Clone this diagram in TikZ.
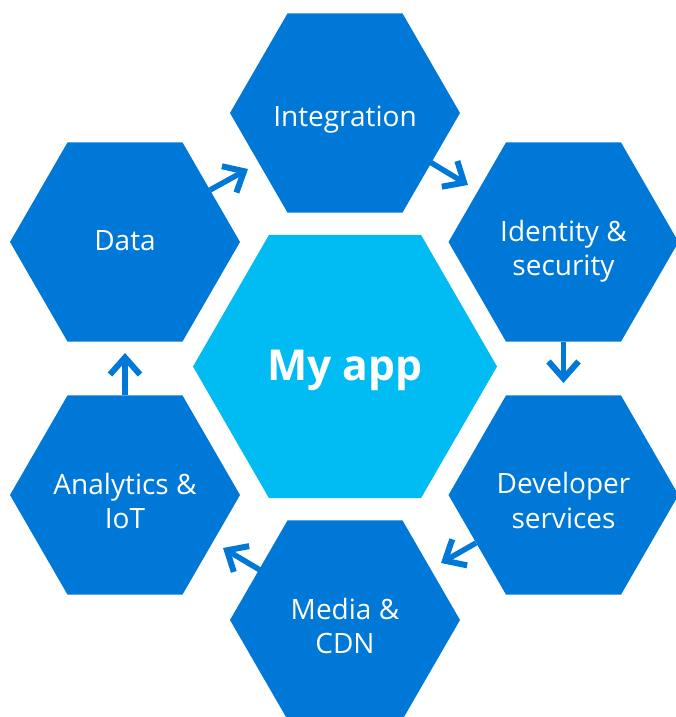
\documentclass[tikz,border=0pt]{standalone}
\usepackage{fontspec}
\setmainfont{Open Sans}
\usetikzlibrary{shapes.geometric,arrows.meta}
\definecolor{hexblue}{HTML}{0078D7}
\definecolor{hexcyan}{HTML}{00BCF2}
\tikzset{
  hexbase/.style={regular polygon,regular polygon sides=6,inner sep=0pt,outer sep=0pt},
  hexsmall/.style={hexbase,fill=hexblue,minimum size=230pt},
  hexbig/.style={hexbase,fill=hexcyan,minimum size=304pt},
  smalltext/.style={text=white,align=center,inner sep=0pt,font=\fontsize{28}{34.5}\selectfont},
  bigtext/.style={text=white,align=center,inner sep=0pt,font=\fontsize{42.6}{48}\selectfont\bfseries},
  flow/.style={draw=hexblue,line width=5.5pt,-{Straight Barb[length=17pt,width=30pt,line width=6pt]}}
}
\begin{document}
\begin{tikzpicture}[x=1pt,y=-1pt]
\useasboundingbox (0,0) rectangle (676,717);
\clip (0,0) rectangle (676,717);
\node[hexbig] (app) at (345,366.5) {};
\node[hexsmall] (integration) at (345,113) {};
\node[hexsmall] (identity) at (563.5,242) {};
\node[hexsmall] (developer) at (563.5,495) {};
\node[hexsmall] (media) at (345,620) {};
\node[hexsmall] (analytics) at (125,495) {};
\node[hexsmall] (data) at (125,242) {};
\node[bigtext] (apptext) at (345,370.5) {My app};
\node[smalltext] (integrationtext) at (345,120) {Integration};
\node[smalltext] (identitytext) at (563.5,251) {Identity \&\\security};
\node[smalltext] (developertext) at (563.5,500.5) {Developer\\services};
\node[smalltext] (mediatext) at (345,626) {Media \&\\CDN};
\node[smalltext] (analyticstext) at (125,501) {Analytics \&\\IoT};
\node[smalltext] (datatext) at (125,241) {Data};
\coordinate (a1s) at (210,190); \coordinate (a1e) at (248,169);
\coordinate (a2s) at (430,162); \coordinate (a2e) at (468,185);
\coordinate (a3s) at (563.5,342); \coordinate (a3e) at (563.5,383);
\coordinate (a4s) at (476,543); \coordinate (a4e) at (441,563);
\coordinate (a5s) at (260,570); \coordinate (a5e) at (223,548);
\coordinate (a6s) at (125,395); \coordinate (a6e) at (125,353);
\draw[flow] (a1s) -- (a1e);
\draw[flow] (a2s) -- (a2e);
\draw[flow] (a3s) -- (a3e);
\draw[flow] (a4s) -- (a4e);
\draw[flow] (a5s) -- (a5e);
\draw[flow] (a6s) -- (a6e);
\end{tikzpicture}
\end{document}
